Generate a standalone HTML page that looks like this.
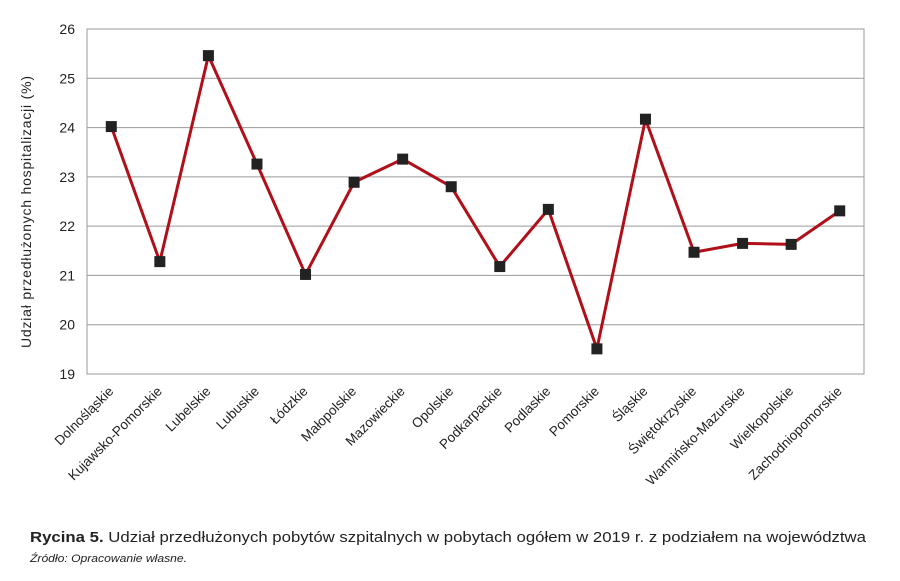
<!DOCTYPE html>
<html><head><meta charset="utf-8">
<style>
body{margin:0;background:#fff;width:900px;height:581px;overflow:hidden;font-family:"Liberation Sans",sans-serif;}
</style></head>
<body>
<svg id="chart" width="900" height="581" xmlns="http://www.w3.org/2000/svg" style="position:absolute;left:0;top:0">
<g id="grid"></g><g id="yticks"></g><g id="xlabels"></g><g id="series"></g>
<text transform="translate(31,212) rotate(-90)" text-anchor="middle" font-size="14" textLength="272" fill="#222">Udział przedłużonych hospitalizacji (%)</text>
<text x="30" y="542" font-size="15" textLength="836" lengthAdjust="spacingAndGlyphs" fill="#222"><tspan font-weight="bold">Rycina 5.</tspan> Udział przedłużonych pobytów szpitalnych w pobytach ogółem w 2019 r. z podziałem na województwa</text>
<text x="30" y="562" font-size="11" font-style="italic" textLength="157" lengthAdjust="spacingAndGlyphs" fill="#222">Źródło: Opracowanie własne.</text>
</svg>
<script>
const categories=["Dolnośląskie","Kujawsko-Pomorskie","Lubelskie","Lubuskie","Łódzkie","Małopolskie","Mazowieckie","Opolskie","Podkarpackie","Podlaskie","Pomorskie","Śląskie","Świętokrzyskie","Warmińsko-Mazurskie","Wielkopolskie","Zachodniopomorskie"];
const values=[24.02,21.28,25.46,23.26,21.02,22.89,23.36,22.80,21.18,22.34,19.51,24.17,21.47,21.65,21.63,22.31];
const yTicks=[19,20,21,22,23,24,25,26];
const NS="http://www.w3.org/2000/svg";
const L=87,R=864,T=29,B=374,yMin=19,yMax=26;
const band=(R-L)/categories.length;
const xs=i=>L+band*(i+0.5);
const ys=v=>B-(v-yMin)/(yMax-yMin)*(B-T);
function mk(tag,attrs,parent){const e=document.createElementNS(NS,tag);for(const k in attrs)e.setAttribute(k,attrs[k]);document.getElementById(parent).appendChild(e);return e;}
yTicks.forEach(t=>{
 const l=mk('line',{x1:L,x2:R,y1:ys(t),y2:ys(t),stroke:'#9a9a9a','stroke-width':1},'grid');
 
 
 const tx=mk('text',{x:L-12,y:ys(t)+5,'text-anchor':'end','font-size':14,fill:'#222'},'yticks');
 tx.textContent=t;
 
 
});
const fr=mk('rect',{x:L,y:T,width:R-L,height:B-T,fill:'none',stroke:'#9a9a9a','stroke-width':1},'grid');


categories.forEach((c,i)=>{
 const tx=mk('text',{transform:`translate(${xs(i)+3},${B+18}) rotate(-45)`,'text-anchor':'end','font-size':13.5,fill:'#222'},'xlabels');
 tx.textContent=c;
 
 
});
const pl=mk('polyline',{points:values.map((v,i)=>xs(i)+','+ys(v)).join(' '),fill:'none',stroke:'#b0101a','stroke-width':3,'stroke-linejoin':'round'},'series');


values.forEach((v,i)=>{
 const r=mk('rect',{x:xs(i)-5.5,y:ys(v)-5.5,width:11,height:11,fill:'#222'},'series');
 
 
});
</script>
</body></html>
